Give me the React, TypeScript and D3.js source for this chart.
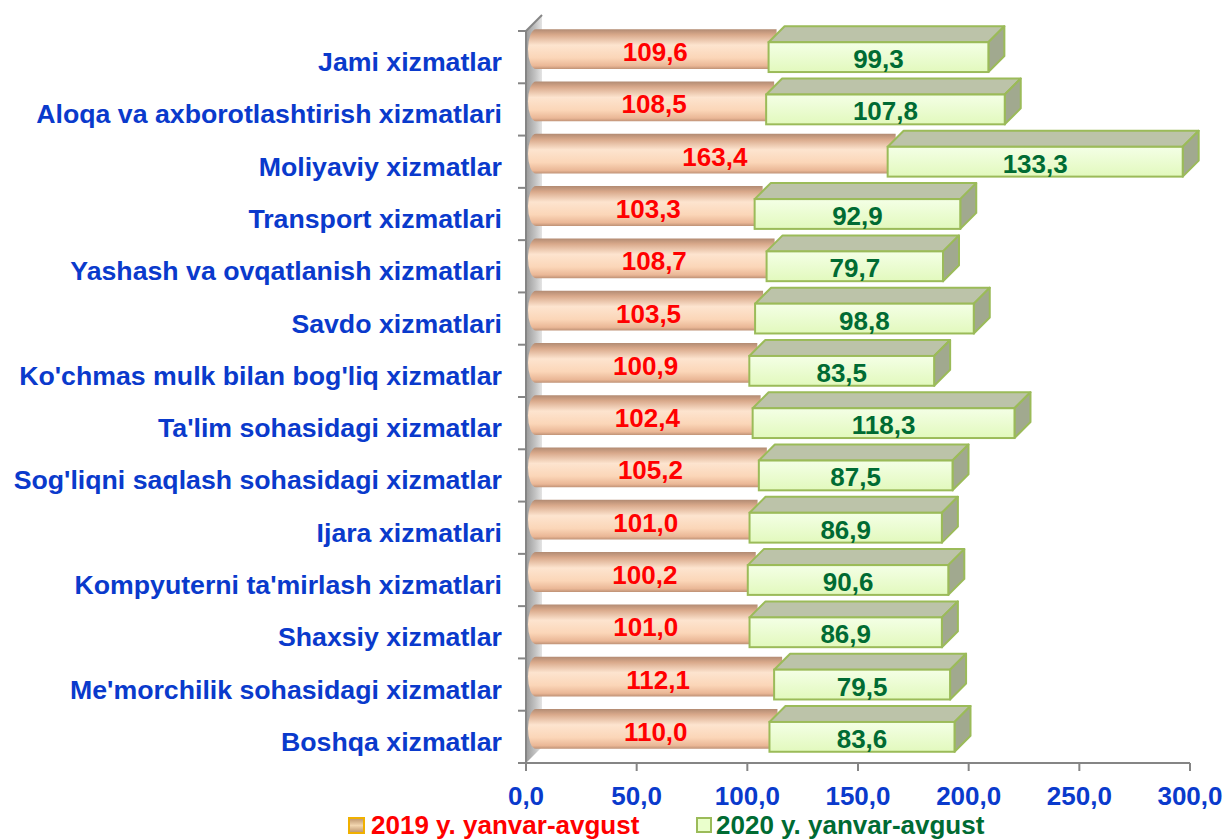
import * as d3 from 'd3';

const categories = [
  'Jami xizmatlar',
  'Aloqa va axborotlashtirish xizmatlari',
  'Moliyaviy xizmatlar',
  'Transport xizmatlari',
  'Yashash va ovqatlanish xizmatlari',
  'Savdo xizmatlari',
  "Ko'chmas mulk bilan bog'liq xizmatlar",
  "Ta'lim sohasidagi xizmatlar",
  "Sog'liqni saqlash sohasidagi xizmatlar",
  'Ijara xizmatlari',
  "Kompyuterni ta'mirlash xizmatlari",
  'Shaxsiy xizmatlar',
  "Me'morchilik sohasidagi xizmatlar",
  'Boshqa xizmatlar',
];

const values2019 = [109.6, 108.5, 163.4, 103.3, 108.7, 103.5, 100.9, 102.4, 105.2, 101.0, 100.2, 101.0, 112.1, 110.0];
const values2020 = [99.3, 107.8, 133.3, 92.9, 79.7, 98.8, 83.5, 118.3, 87.5, 86.9, 90.6, 86.9, 79.5, 83.6];

const xTicks = [0, 50, 100, 150, 200, 250, 300];
const legendLabels = ['2019 y. yanvar-avgust', '2020 y. yanvar-avgust'];

const WIDTH = 1226;
const HEIGHT = 840;
const FONT = '"Liberation Sans", Arial, sans-serif';
const FS = 26;
const fmt = (v: number) => v.toFixed(1).replace('.', ',');

export default function App() {
  const x = d3.scaleLinear().domain([0, 300]).range([526, 1190]);
  const y = d3.scaleBand<string>().domain(categories).range([31, 763]).paddingInner(0.43).paddingOuter(0.215);
  const bw = y.bandwidth();
  const dx = 16;
  const dy = -16;
  const x0 = x(0);
  const top = y.range()[0];
  const bottom = y.range()[1];

  // category boundaries for the vertical axis ticks
  const boundaries = d3.range(categories.length + 1).map((i) => top + i * y.step());

  return (
    <svg width={WIDTH} height={HEIGHT} style={{ position: 'absolute', left: 0, top: 0, background: '#fff' }}>
      <defs>
        <linearGradient id="cyl" x1="0" y1="0" x2="0" y2="1">
          <stop offset="0%" stopColor="#b28b73" />
          <stop offset="14%" stopColor="#d9a98b" />
          <stop offset="40%" stopColor="#fde4cf" />
          <stop offset="72%" stopColor="#fbd6b8" />
          <stop offset="92%" stopColor="#eab796" />
          <stop offset="100%" stopColor="#bf9276" />
        </linearGradient>
        <linearGradient id="front" x1="0" y1="0" x2="0" y2="1">
          <stop offset="0%" stopColor="#f4ffe6" />
          <stop offset="100%" stopColor="#e2f9bd" />
        </linearGradient>
        <linearGradient id="wall" x1="0" y1="0" x2="1" y2="0">
          <stop offset="0%" stopColor="#9a9a9a" />
          <stop offset="60%" stopColor="#c4c4c4" />
          <stop offset="100%" stopColor="#e4e4e4" />
        </linearGradient>
        <linearGradient id="legOrange" x1="0" y1="0" x2="0" y2="1">
          <stop offset="0%" stopColor="#b8906a" />
          <stop offset="50%" stopColor="#f2d6b0" />
          <stop offset="100%" stopColor="#b8906a" />
        </linearGradient>
      </defs>

      {/* side wall */}
      <polygon
        points={`${x0},${top} ${x0 + dx},${top + dy} ${x0 + dx},${bottom + dy} ${x0},${bottom}`}
        fill="url(#wall)"
      />

      {/* axes */}
      <line x1={x0} x2={x0} y1={top} y2={bottom} stroke="#858585" strokeWidth={2} />
      <line x1={x0 + dx} x2={x0} y1={top + dy} y2={top} stroke="#858585" strokeWidth={2} />
      {boundaries.map((b, i) => (
        <line key={i} x1={x0 - 8} x2={x0} y1={b} y2={b} stroke="#858585" strokeWidth={2} />
      ))}
      <line x1={x0} x2={x(300)} y1={bottom} y2={bottom} stroke="#858585" strokeWidth={2} />
      {xTicks.map((t) => (
        <g key={t}>
          <line x1={x(t)} x2={x(t)} y1={bottom} y2={bottom + 8} stroke="#858585" strokeWidth={2} />
          <text
            x={x(t)}
            y={bottom + 42}
            textAnchor="middle"
            fontFamily={FONT}
            fontWeight="bold"
            fontSize={FS}
            fill="#0a3acc"
          >
            {fmt(t)}
          </text>
        </g>
      ))}

      {/* bars */}
      {categories.map((c, i) => {
        const fy = y(c)!;
        const fc = fy + bw / 2;
        const v1 = values2019[i];
        const v2 = values2020[i];
        const xa = x(v1);
        const xb = x(v1 + v2);
        // cylinder for 2019
        const cc = fc + dy / 2;
        const hh = bw / 2 + 5;
        const ct = cc - hh;
        const cb = cc + hh;
        const rx = 8;
        const xl = x0 + 2 + rx;
        const cylPath = `M${xl},${ct} L${xa + dx / 2},${ct} L${xa + dx / 2},${cb} L${xl},${cb} A${rx},${hh} 0 0 1 ${xl},${ct} Z`;
        return (
          <g key={c}>
            <path d={cylPath} fill="url(#cyl)" />
            {/* 2020 box */}
            <polygon
              points={`${xa},${fy} ${xa + dx},${fy + dy} ${xb + dx},${fy + dy} ${xb},${fy}`}
              fill="#bcc3a9"
              stroke="#9bbb59"
              strokeWidth={2}
              strokeLinejoin="round"
            />
            <polygon
              points={`${xb},${fy} ${xb + dx},${fy + dy} ${xb + dx},${fy + bw + dy} ${xb},${fy + bw}`}
              fill="#a1a98f"
              stroke="#9bbb59"
              strokeWidth={2}
              strokeLinejoin="round"
            />
            <rect x={xa} y={fy} width={xb - xa} height={bw} fill="url(#front)" stroke="#9bbb59" strokeWidth={2} />
            <text
              x={(x0 + xa) / 2 + dx / 2}
              y={cc + 12}
              textAnchor="middle"
              fontFamily={FONT}
              fontWeight="bold"
              fontSize={FS}
              fill="#ff0000"
            >
              {fmt(v1)}
            </text>
            <text
              x={(xa + xb) / 2}
              y={fc + 11}
              textAnchor="middle"
              fontFamily={FONT}
              fontWeight="bold"
              fontSize={FS}
              fill="#006b33"
            >
              {fmt(v2)}
            </text>
            <text
              x={502}
              y={fc + 14}
              textAnchor="end"
              fontFamily={FONT}
              fontWeight="bold"
              fontSize={26.7}
              fill="#0a3acc"
            >
              {c}
            </text>
          </g>
        );
      })}

      {/* legend */}
      <rect x={349} y={818} width={15} height={15} fill="url(#legOrange)" stroke="#f0b000" strokeWidth={2} />
      <text x={371} y={834} fontFamily={FONT} fontWeight="bold" fontSize={FS} fill="#ff0000">
        {legendLabels[0]}
      </text>
      <rect x={697} y={818} width={14} height={14} fill="#eaffcc" stroke="#9bbb59" strokeWidth={2} />
      <text x={716} y={834} fontFamily={FONT} fontWeight="bold" fontSize={FS} fill="#006b33">
        {legendLabels[1]}
      </text>
    </svg>
  );
}
